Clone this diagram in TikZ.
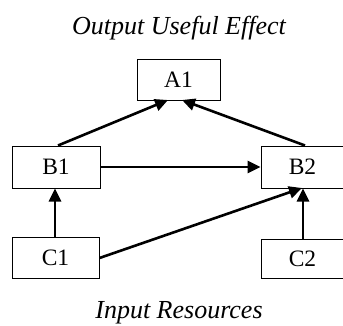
\documentclass[tikz,border=0pt]{standalone}
\usepackage{fontspec}
\setmainfont{Liberation Serif}
\usetikzlibrary{arrows.meta}
\begin{document}
\begin{tikzpicture}[x=1pt,y=-1pt,
  box/.style={draw, line width=1pt, inner sep=0pt, font=\fontsize{23.5}{23.5}\selectfont},
  arr/.style={line width=2.6pt, -{Triangle[length=13pt,width=12pt]}},
  lab/.style={font=\itshape\fontsize{26}{26}\selectfont, anchor=base}]
\useasboundingbox (0,0) rectangle (343,325);
\node[lab] (top) at (179,34) {Output Useful Effect};
\node[lab] (bot) at (179,318) {Input Resources};
\node[box, minimum width=83pt, minimum height=41pt] (A1) at (178.5,79.5) {A1};
\node[box, minimum width=88pt, minimum height=42pt] (B1) at (56,167) {B1};
\node[box, minimum width=83pt, minimum height=42pt] (B2) at (302.5,167) {B2};
\node[box, minimum width=87pt, minimum height=41pt] (C1) at (55.5,257.5) {C1};
\node[box, minimum width=83pt, minimum height=39pt] (C2) at (302.5,258.5) {C2};
\draw[arr] (B1.north -| 58,0) -- (168,100);
\draw[arr] (B2.north -| 305,0) -- (182,100);
\draw[arr] (B1.east) -- (B2.west);
\draw[arr] (C1.north -| 55,0) -- (B1.south -| 55,0);
\draw[arr] (C1.east |- 0,258) -- (302,188);
\draw[arr] (C2.north -| 303,0) -- (B2.south -| 303,0);
\end{tikzpicture}
\end{document}
